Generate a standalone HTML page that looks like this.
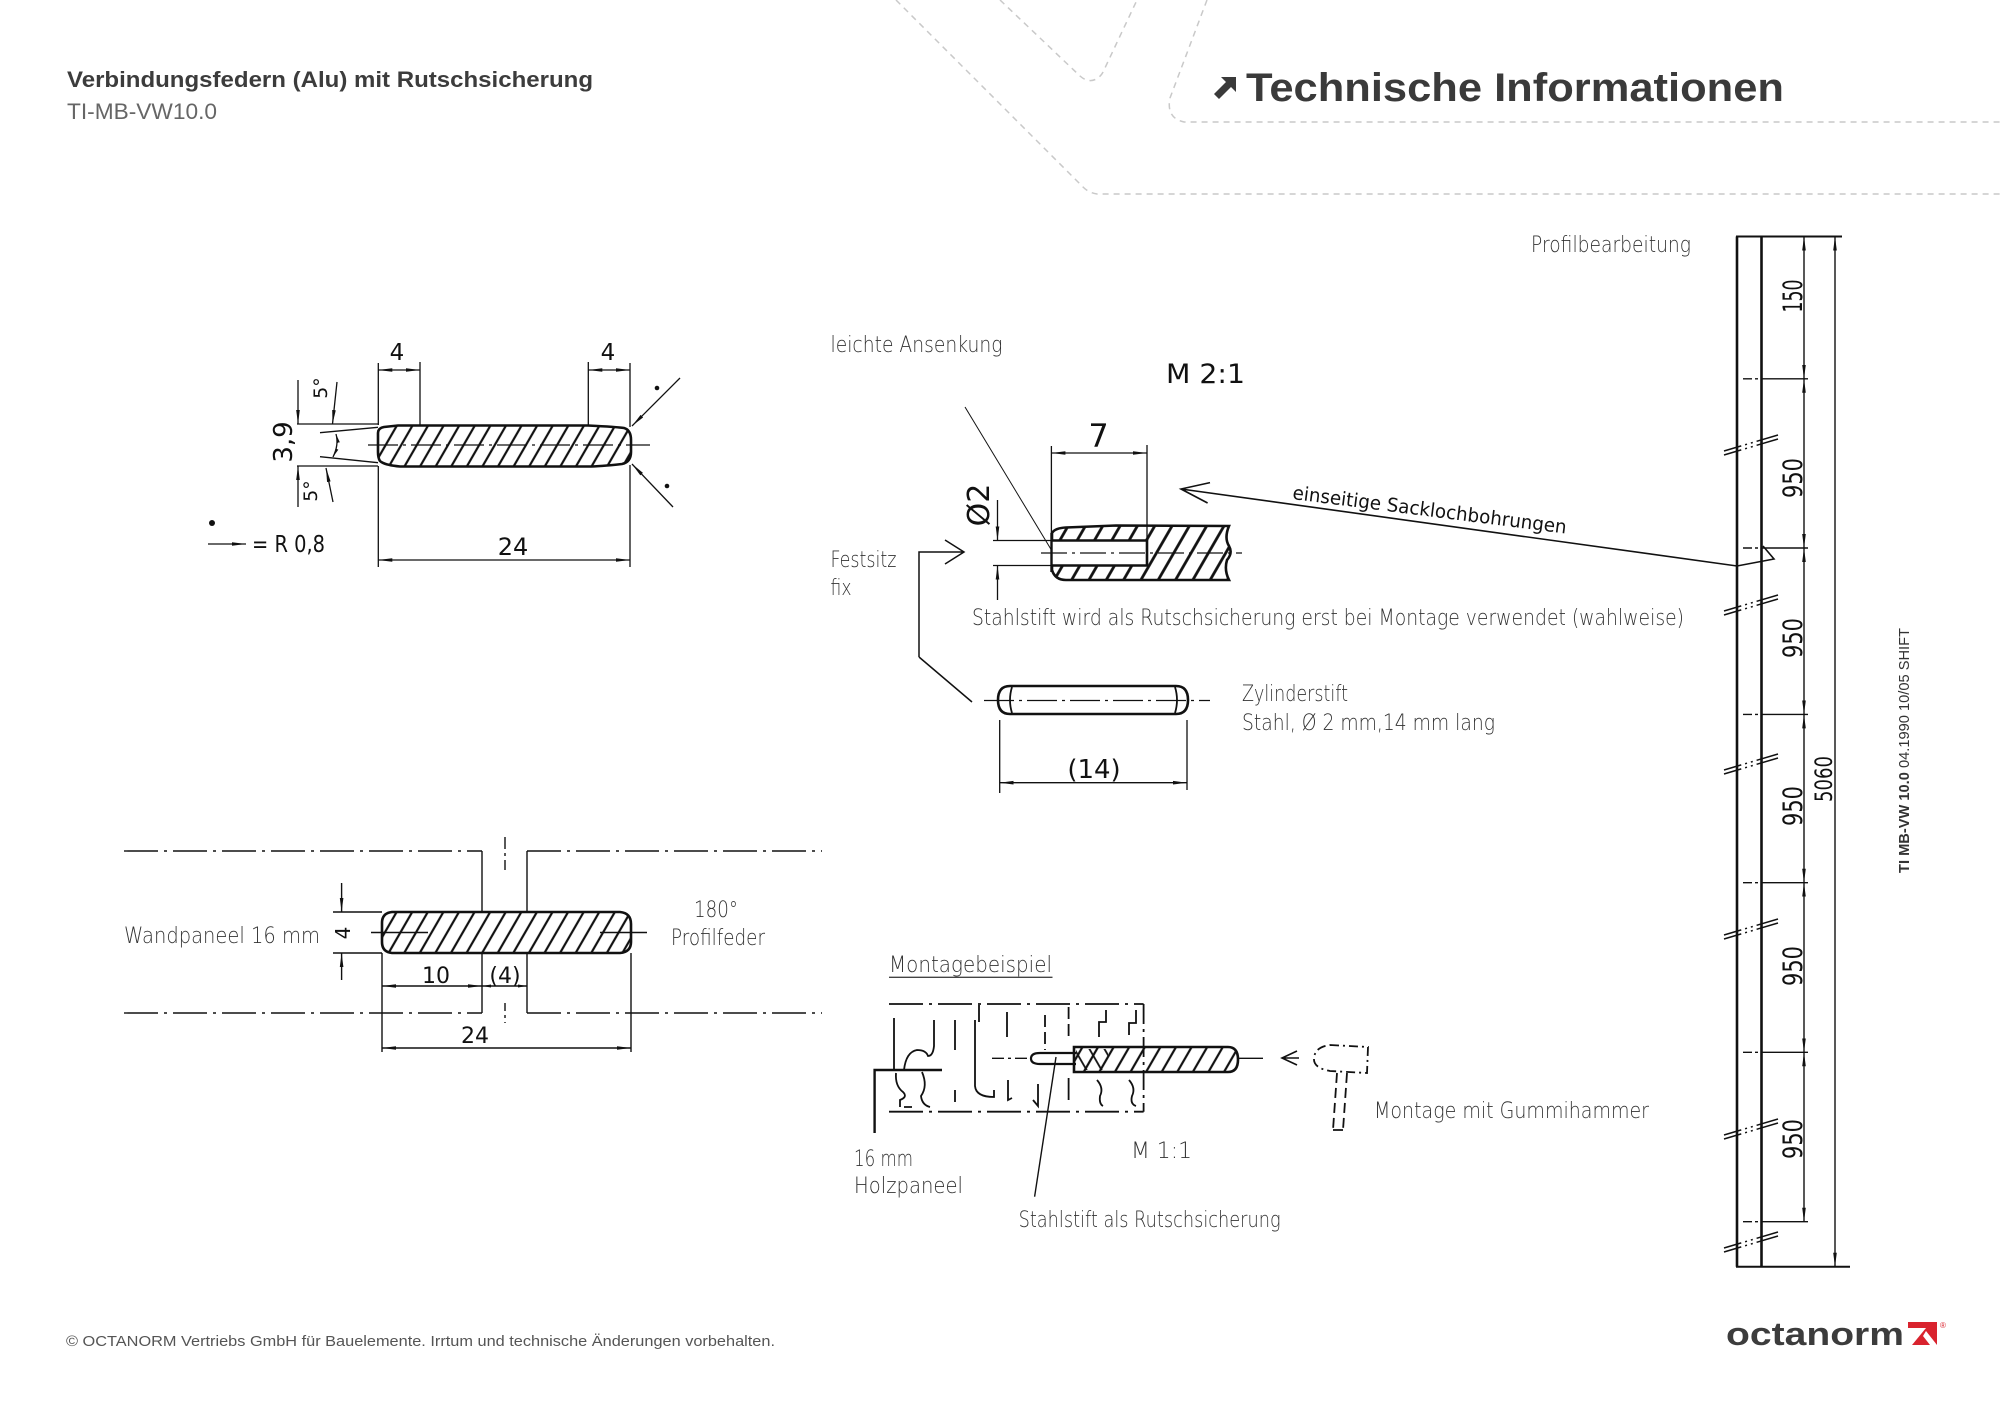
<!DOCTYPE html>
<html><head><meta charset="utf-8">
<style>
html,body{margin:0;padding:0;background:#fff;}
svg{display:block;}
.lb{font-family:"DejaVu Sans","Liberation Sans",sans-serif;font-weight:200;fill:#333;font-size:22px;}
.dm{font-family:"DejaVu Sans","Liberation Sans",sans-serif;fill:#111;}
.hd{font-family:"Liberation Sans","DejaVu Sans",sans-serif;}
</style></head><body>
<svg width="2000" height="1413" viewBox="0 0 2000 1413" xmlns="http://www.w3.org/2000/svg">
<defs>
<marker id="a" viewBox="0 0 14 6" refX="14" refY="3" markerWidth="14" markerHeight="6" markerUnits="userSpaceOnUse" orient="auto-start-reverse"><path d="M0,1.2 L14,3 L0,4.8 Z" fill="#111"/></marker>
<marker id="b" viewBox="0 0 9 5" refX="9" refY="2.5" markerWidth="9" markerHeight="5" markerUnits="userSpaceOnUse" orient="auto-start-reverse"><path d="M0,1 L9,2.5 L0,4 Z" fill="#111"/></marker>
<pattern id="h1" patternUnits="userSpaceOnUse" width="13.5" height="20" patternTransform="rotate(30)"><line x1="3" y1="-2" x2="3" y2="22" stroke="#111" stroke-width="2.2"/></pattern>
<pattern id="h2" patternUnits="userSpaceOnUse" width="15" height="20" patternTransform="rotate(30)"><line x1="3" y1="-2" x2="3" y2="22" stroke="#111" stroke-width="2.8"/></pattern>
<pattern id="h3" patternUnits="userSpaceOnUse" width="13" height="20" patternTransform="rotate(-30)"><line x1="3" y1="-2" x2="3" y2="22" stroke="#111" stroke-width="1.8"/></pattern>
</defs>

<!-- decorative dashed header lines -->
<g stroke="#c9c9c9" stroke-width="1.5" fill="none" stroke-dasharray="6,5">
<path d="M896,0 L1083,187 Q1089,193 1097,194 L2000,194"/>
<path d="M1000,0 L1080,76 Q1089,84 1098,78 Q1102,75 1104,70 L1137,0"/>
<path d="M1207,0 L1170,98 Q1166,118 1184,122 L2000,122"/>
</g>

<!-- header text -->
<text class="hd" x="67" y="87" font-size="22" font-weight="bold" fill="#3c3c3c" textLength="526" lengthAdjust="spacingAndGlyphs">Verbindungsfedern (Alu) mit Rutschsicherung</text>
<text class="hd" x="67" y="119" font-size="22" fill="#666" textLength="150" lengthAdjust="spacingAndGlyphs">TI-MB-VW10.0</text>
<g fill="#3a3a3a">
<polygon points="1221,77 1236,77 1236,92 1231,87 1219,99 1214,94 1226,82"/>
</g>
<text class="hd" x="1246" y="101" font-size="40" font-weight="bold" fill="#3a3a3a" textLength="538" lengthAdjust="spacingAndGlyphs">Technische Informationen</text>

<!-- ============ Drawing 1 ============ -->
<g stroke="#111" fill="none" stroke-width="1.3">
<path d="M384,427 L398,425.5 L588,425.5 Q618,427 624,428 Q631,430 631,440 L631,452 Q631,462 622,464 Q600,466.5 588,466.5 L400,466.5 Q384,465 380,461 Q378,458 378,452 L378,433 Q378,428 384,427 Z" fill="url(#h1)" stroke-width="2.6"/>
<line x1="368" y1="445" x2="650" y2="445" stroke-dasharray="30,5,3,5"/>
<path d="M378.3,363 V425 M378.3,466 V567 M420,362 V425 M588.3,362 V425 M630,363 V427 M630,465 V567"/>
<line x1="378.3" y1="370" x2="420" y2="370" marker-start="url(#a)" marker-end="url(#a)"/>
<line x1="588.3" y1="370" x2="630" y2="370" marker-start="url(#a)" marker-end="url(#a)"/>
<line x1="378.3" y1="560" x2="630" y2="560" marker-start="url(#a)" marker-end="url(#a)"/>
<path d="M297,424 H378 M297,466 H378"/>
<line x1="298" y1="380" x2="298" y2="424" marker-end="url(#a)"/>
<line x1="298" y1="507" x2="298" y2="466" marker-end="url(#a)"/>
<path d="M320,432.7 L378,427.3 M320,456.7 L378,462.7"/>
<line x1="337" y1="382" x2="332.5" y2="424" marker-end="url(#a)"/>
<line x1="333" y1="502" x2="326" y2="468" marker-end="url(#a)"/>
<path d="M336,434 Q339,445 333,457" marker-start="url(#b)" marker-end="url(#b)"/>
<line x1="680" y1="378" x2="632" y2="426" marker-end="url(#a)"/>
<line x1="673" y1="507" x2="632" y2="464" marker-end="url(#a)"/>
<line x1="208" y1="544" x2="246" y2="544" marker-end="url(#a)"/>
</g>
<g fill="#111">
<circle cx="657" cy="388" r="2.3"/>
<circle cx="667" cy="486" r="2.3"/>
<circle cx="212" cy="523" r="3"/>
</g>
<g class="dm">
<text x="397" y="360" font-size="23" text-anchor="middle">4</text>
<text x="608" y="360" font-size="23" text-anchor="middle">4</text>
<text x="513" y="555" font-size="24" text-anchor="middle">24</text>
<text transform="translate(292,442) rotate(-90)" font-size="26" text-anchor="middle">3,9</text>
<text transform="translate(327,388) rotate(-90)" font-size="19" text-anchor="middle">5°</text>
<text transform="translate(317,491) rotate(-90)" font-size="19" text-anchor="middle">5°</text>
<text x="252" y="552" font-size="23" textLength="73" lengthAdjust="spacingAndGlyphs">= R 0,8</text>
</g>

<!-- ============ Drawing 2 ============ -->
<g stroke="#111" fill="none" stroke-width="1.4">
<line x1="124" y1="851" x2="482" y2="851" stroke-dasharray="34,6,3,6"/>
<line x1="527" y1="851" x2="822" y2="851" stroke-dasharray="34,6,3,6"/>
<line x1="124" y1="1013" x2="482" y2="1013" stroke-dasharray="34,6,3,6"/>
<line x1="527" y1="1013" x2="822" y2="1013" stroke-dasharray="34,6,3,6"/>
<line x1="482" y1="851" x2="482" y2="912"/>
<line x1="527" y1="851" x2="527" y2="912"/>
<line x1="482" y1="953" x2="482" y2="1013"/>
<line x1="527" y1="953" x2="527" y2="1013"/>
<line x1="505" y1="837" x2="505" y2="870" stroke-dasharray="12,4,3,4"/>
<line x1="505" y1="1003" x2="505" y2="1023" stroke-dasharray="8,4,3,4"/>
<path d="M392,912 L620,912 Q631,913 631,924 L631,942 Q631,952 620,953 L392,953 Q382,952 382,942 L382,923 Q382,913 392,912 Z" fill="url(#h1)" stroke-width="2.6"/>
<path d="M371,932.5 H428 M600,932.5 H647"/>
<path d="M333,912 H382 M333,953 H382 M382,953 V1052 M631,953 V1052"/>
<line x1="341.6" y1="883" x2="341.6" y2="912" marker-end="url(#a)"/>
<line x1="341.6" y1="980" x2="341.6" y2="953" marker-end="url(#a)"/>
<line x1="382" y1="986" x2="482" y2="986" marker-start="url(#a)" marker-end="url(#a)"/>
<line x1="482" y1="986" x2="527" y2="986" marker-start="url(#b)" marker-end="url(#b)"/>
<line x1="382" y1="1048" x2="631" y2="1048" marker-start="url(#a)" marker-end="url(#a)"/>
</g>
<g class="dm">
<text transform="translate(350,933) rotate(-90)" font-size="20" text-anchor="middle">4</text>
<text x="436" y="983" font-size="22" text-anchor="middle">10</text>
<text x="505" y="983" font-size="22" text-anchor="middle">(4)</text>
<text x="475" y="1043" font-size="22" text-anchor="middle">24</text>
</g>
<g class="lb">
<text x="124" y="943" textLength="196" lengthAdjust="spacingAndGlyphs">Wandpaneel 16 mm</text>
<text x="694" y="917" textLength="44" lengthAdjust="spacingAndGlyphs">180°</text>
<text x="671" y="945" textLength="94" lengthAdjust="spacingAndGlyphs">Profilfeder</text>
</g>

<!-- ============ Drawing 3 (M 2:1) ============ -->
<g stroke="#111" fill="none" stroke-width="1.3">
<path d="M1052,533 Q1055,528 1066,527.5 L1116,525.5 L1229,526 Q1224,538 1229,546 Q1233,553 1227,560 Q1224,570 1229,580 L1066,580 Q1055,580 1052,570 Z" fill="url(#h2)" stroke-width="2.6"/>
<path d="M1051,540.5 H1147 V565.5 H1051 Z" fill="#fff" stroke="none"/>
<path d="M1051,540.5 H1147 V565.5 H1051" stroke-width="2.6"/>
<line x1="1051.5" y1="533" x2="1051.5" y2="572" stroke-width="2.4"/>
<line x1="1041" y1="553" x2="1242" y2="553" stroke-dasharray="26,5,3,5"/>
<path d="M1051.4,446 V533 M1147,445 V566"/>
<line x1="1051.4" y1="453" x2="1147" y2="453" marker-start="url(#a)" marker-end="url(#a)"/>
<path d="M993,540.5 H1051 M993,565.5 H1051"/>
<line x1="997.5" y1="500" x2="997.5" y2="540.5" marker-end="url(#a)"/>
<line x1="997.5" y1="600" x2="997.5" y2="565.5" marker-end="url(#a)"/>
<line x1="965" y1="407" x2="1052" y2="551" stroke-width="1"/>
<path d="M919,657 V552 H963 M945,540 L964,552 L945,564 M919,657 L972,702" stroke-width="1.5"/>
<path d="M1210,482.6 L1181,489 L1207.6,503 M1181,489 L1737,566 L1774,559 L1763,546" stroke-width="1.6"/>
</g>
<g class="dm">
<text x="1098.6" y="447" font-size="32" text-anchor="middle">7</text>
<text x="1166" y="383" font-size="27" textLength="79" lengthAdjust="spacingAndGlyphs">M 2:1</text>
<text transform="translate(989,505) rotate(-90)" font-size="30" text-anchor="middle">Ø2</text>
<text transform="translate(1292,499) rotate(7.2)" font-size="19" textLength="276" lengthAdjust="spacingAndGlyphs">einseitige Sacklochbohrungen</text>
</g>
<g class="lb">
<text x="830.5" y="352" textLength="172" lengthAdjust="spacingAndGlyphs">leichte Ansenkung</text>
<text x="830.5" y="567" textLength="66" lengthAdjust="spacingAndGlyphs">Festsitz</text>
<text x="830.5" y="595" textLength="21" lengthAdjust="spacingAndGlyphs">fix</text>
<text x="972" y="625" textLength="712" lengthAdjust="spacingAndGlyphs">Stahlstift wird als Rutschsicherung erst bei Montage verwendet (wahlweise)</text>
</g>

<!-- ============ Drawing 4 (Zylinderstift) ============ -->
<g stroke="#111" fill="none" stroke-width="1.3">
<path d="M1010,686 L1176,686 Q1188,686 1188,700 Q1188,714 1176,714 L1010,714 Q998,714 998,700 Q998,686 1010,686 Z" stroke-width="2.6"/>
<path d="M1012,687 Q1008,700 1012,713 M1175,687 Q1179,700 1175,713" stroke-width="1.8"/>
<line x1="984" y1="700.5" x2="1210" y2="700.5" stroke-dasharray="30,5,3,5"/>
<path d="M999.7,720 V793 M1187,720 V790"/>
<line x1="999.7" y1="782.7" x2="1187" y2="782.7" marker-start="url(#a)" marker-end="url(#a)"/>
</g>
<text class="dm" x="1094" y="778" font-size="26" text-anchor="middle">(14)</text>
<g class="lb">
<text x="1242" y="701" textLength="106" lengthAdjust="spacingAndGlyphs">Zylinderstift</text>
<text x="1242" y="730" textLength="253" lengthAdjust="spacingAndGlyphs">Stahl, Ø 2 mm,14 mm lang</text>
</g>

<!-- ============ Drawing 5 (Montagebeispiel) ============ -->
<g stroke="#111" fill="none" stroke-width="1.8">
<line x1="889" y1="1004" x2="1143.6" y2="1004" stroke-dasharray="34,6,3,6"/>
<line x1="1143.6" y1="1004" x2="1143.6" y2="1111.7" stroke-dasharray="20,5,3,5"/>
<line x1="889" y1="1111.7" x2="1143.6" y2="1111.7" stroke-dasharray="34,6,3,6"/>
<path d="M894,1018 V1070"/>
<path d="M874.6,1133 V1070 H942" stroke-width="2.4"/>
<path d="M904,1070 Q906,1052 917,1050 Q926,1050 928,1056 Q933,1056 934,1046 V1020"/>
<path d="M896,1073 Q895,1086 903,1092 Q908,1097 900,1100 V1107 M904,1107 H912"/>
<path d="M922,1072 Q928,1086 921,1096 Q922,1105 930,1107"/>
<path d="M955,1020 V1050 M955,1090 V1102"/>
<path d="M975,1020 V1086 Q976,1097 994,1097 V1090"/>
<path d="M979,1005 V1022"/>
<path d="M1007,1012 V1037 M1008,1080 V1100 L1012,1098"/>
<path d="M1045,1015 V1050" stroke-dasharray="12,5"/>
<path d="M1038,1084 V1106 L1033,1100"/>
<path d="M1068.6,1007 V1037" stroke-dasharray="12,5"/>
<path d="M1068.6,1078 V1100"/>
<path d="M1099,1037 V1022 H1106 V1010"/>
<path d="M1097,1080 Q1104,1088 1100,1096 Q1099,1104 1103,1106"/>
<path d="M1129,1035 V1023 H1136 V1010"/>
<path d="M1129,1080 Q1136,1088 1132,1096 Q1130,1104 1136,1106"/>
<line x1="992" y1="1058.3" x2="1031" y2="1058.3" stroke-width="1.3" stroke-dasharray="12,4,3,4"/>
<path d="M1076,1053 L1040,1053 Q1031,1053 1031,1058.5 Q1031,1064 1040,1064 L1076,1064" fill="#fff" stroke-width="2.2"/>
<path d="M1074,1047 L1228,1047 Q1238,1047 1238,1059.5 Q1238,1072 1228,1072 L1074,1072 Z" fill="url(#h1)" stroke-width="2.6"/>
<rect x="1076" y="1049" width="32" height="21" fill="url(#h3)" stroke="none"/>
<line x1="1238" y1="1058.3" x2="1263" y2="1058.3" stroke-width="1.4"/>
<line x1="1056" y1="1057" x2="1034.6" y2="1196.7" stroke-width="1.4"/>
<path d="M1297,1051 L1282,1058 L1297,1065 M1282,1058 H1299" stroke-width="1.6"/>
<path d="M1330,1045 L1368,1047 L1367,1073 L1330,1071 Q1313,1068 1314,1058 Q1315,1047 1330,1045 Z" stroke-dasharray="9,4,2,4"/>
<path d="M1337,1073 L1333,1130 M1347,1073 L1343,1130 M1333,1130 H1343" stroke-dasharray="10,5"/>
<line x1="889" y1="977.3" x2="1052.5" y2="977.3" stroke="#444" stroke-width="1.3"/>
</g>
<g class="lb">
<text x="889" y="972" textLength="163" lengthAdjust="spacingAndGlyphs">Montagebeispiel</text>
<text x="854" y="1166" textLength="59" lengthAdjust="spacingAndGlyphs">16 mm</text>
<text x="854" y="1193" textLength="109" lengthAdjust="spacingAndGlyphs">Holzpaneel</text>
<text x="1131" y="1158" textLength="61" lengthAdjust="spacingAndGlyphs">M 1:1</text>
<text x="1018.6" y="1227" textLength="262" lengthAdjust="spacingAndGlyphs">Stahlstift als Rutschsicherung</text>
<text x="1374" y="1118" textLength="275" lengthAdjust="spacingAndGlyphs">Montage mit Gummihammer</text>
</g>

<!-- ============ Right column (Profilbearbeitung) ============ -->
<g stroke="#111" fill="none" stroke-width="1.4">
<line x1="1737" y1="236.5" x2="1737" y2="1266.7" stroke-width="2.6"/>
<line x1="1761.5" y1="236.5" x2="1761.5" y2="1266.7" stroke-width="2.6"/>
<line x1="1736" y1="236.5" x2="1842" y2="236.5" stroke-width="2"/>
<line x1="1736" y1="1266.7" x2="1850" y2="1266.7" stroke-width="2"/>
<path d="M1743,378.8 H1752 M1755,378.8 H1758 M1761.5,378.8 H1808"/>
<path d="M1743,548 H1752 M1755,548 H1758 M1761.5,548 H1808"/>
<path d="M1743,714.4 H1752 M1755,714.4 H1758 M1761.5,714.4 H1808"/>
<path d="M1743,882.7 H1752 M1755,882.7 H1758 M1761.5,882.7 H1808"/>
<path d="M1743,1052.3 H1752 M1755,1052.3 H1758 M1761.5,1052.3 H1808"/>
<path d="M1743,1221.7 H1752 M1755,1221.7 H1758 M1761.5,1221.7 H1808"/>
<line x1="1804" y1="236.5" x2="1804" y2="378.8" marker-start="url(#a)" marker-end="url(#a)"/>
<line x1="1804" y1="378.8" x2="1804" y2="548" marker-start="url(#a)" marker-end="url(#a)"/>
<line x1="1804" y1="548" x2="1804" y2="714.4" marker-start="url(#a)" marker-end="url(#a)"/>
<line x1="1804" y1="714.4" x2="1804" y2="882.7" marker-start="url(#a)" marker-end="url(#a)"/>
<line x1="1804" y1="882.7" x2="1804" y2="1052.3" marker-start="url(#a)" marker-end="url(#a)"/>
<line x1="1804" y1="1052.3" x2="1804" y2="1221.7" marker-start="url(#a)" marker-end="url(#a)"/>
<line x1="1835" y1="236.5" x2="1835" y2="1266.7" marker-start="url(#a)" marker-end="url(#a)"/>
<g stroke-width="1.5" stroke-dasharray="18,4,2,4,2,4,30">
<path d="M1724,451 L1778,435 M1724,455 L1778,439"/>
<path d="M1724,611 L1778,595 M1724,615 L1778,599"/>
<path d="M1724,770 L1778,754 M1724,774 L1778,758"/>
<path d="M1724,935 L1778,919 M1724,939 L1778,923"/>
<path d="M1724,1135 L1778,1119 M1724,1139 L1778,1123"/>
<path d="M1724,1248 L1778,1232 M1724,1252 L1778,1236"/>
</g>
</g>
<g class="dm" font-size="27" text-anchor="middle">
<text transform="translate(1802,296) rotate(-90)" textLength="33" lengthAdjust="spacingAndGlyphs">150</text>
<text transform="translate(1802,478) rotate(-90)" textLength="40" lengthAdjust="spacingAndGlyphs">950</text>
<text transform="translate(1802,638) rotate(-90)" textLength="40" lengthAdjust="spacingAndGlyphs">950</text>
<text transform="translate(1802,806) rotate(-90)" textLength="40" lengthAdjust="spacingAndGlyphs">950</text>
<text transform="translate(1802,966) rotate(-90)" textLength="40" lengthAdjust="spacingAndGlyphs">950</text>
<text transform="translate(1802,1139) rotate(-90)" textLength="40" lengthAdjust="spacingAndGlyphs">950</text>
<text transform="translate(1832,779) rotate(-90)" font-size="24" textLength="46" lengthAdjust="spacingAndGlyphs">5060</text>
</g>
<text class="lb" x="1531" y="252" textLength="160" lengthAdjust="spacingAndGlyphs">Profilbearbeitung</text>

<!-- vertical side text -->
<text class="hd" transform="translate(1909,873) rotate(-90)" font-size="15" fill="#333" textLength="245" lengthAdjust="spacingAndGlyphs"><tspan font-weight="bold">TI MB-VW 10.0</tspan> 04.1990 10/05 SHIFT</text>

<!-- footer -->
<text class="hd" x="66" y="1346" font-size="15" fill="#555" textLength="709" lengthAdjust="spacingAndGlyphs">© OCTANORM Vertriebs GmbH für Bauelemente. Irrtum und technische Änderungen vorbehalten.</text>
<text class="hd" x="1726" y="1345" font-size="32" font-weight="bold" fill="#3c3c3c" textLength="178" lengthAdjust="spacingAndGlyphs">octanorm</text>
<g>
<rect x="1908" y="1322" width="29" height="23" fill="#d9232e"/>
<polygon points="1908,1328 1926,1328 1912,1345 1908,1345" fill="#fff"/>
<polygon points="1926,1331 1937,1345 1930,1345 1923,1336" fill="#fff"/>
<text class="hd" x="1940" y="1328" font-size="8" fill="#d9232e">®</text>
</g>
</svg>
</body></html>
